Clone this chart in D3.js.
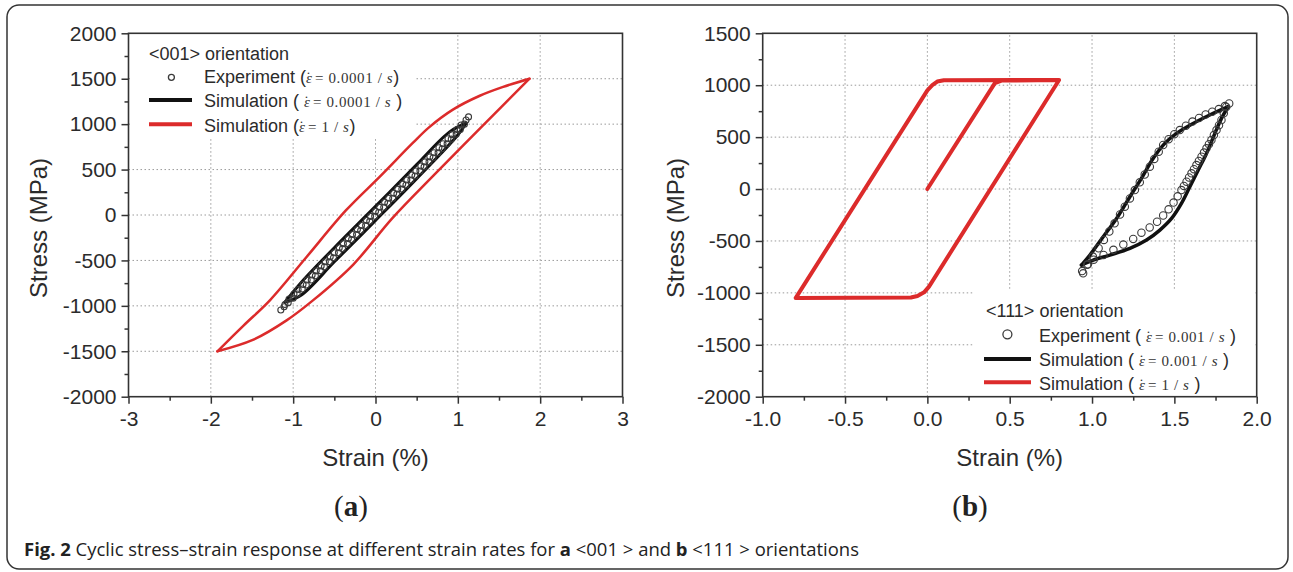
<!DOCTYPE html>
<html>
<head>
<meta charset="utf-8">
<script src="https://cdn.jsdelivr.net/npm/d3@7"></script>
<style>
  body { margin: 0; background: #fff; }
  svg { display: block; }
  .grid line { stroke: #9a9a9a; stroke-width: 1; stroke-dasharray: 1.5 2.5; }
</style>
</head>
<body>
<svg id="fig" width="1293" height="572"></svg>
<script>
// ---- panel (a) : <001> orientation ----
var strainTicksA = [-3, -2, -1, 0, 1, 2, 3];
var strainMinorA = [-2.5, -1.5, -0.5, 0.5, 1.5, 2.5];
var stressTicksA = [-2000, -1500, -1000, -500, 0, 500, 1000, 1500, 2000];
var stressMinorA = [-1750, -1250, -750, -250, 250, 750, 1250, 1750];

// simulation, strain rate 1/s (loading branch, then unloading branch)
var redA_load = [[-1.92,-1500],[-1.60,-1215],[-1.28,-936],[-0.84,-465],[-0.36,50],[0.05,420],[0.45,790],[0.65,965],[0.94,1160],[1.26,1310],[1.55,1410],[1.87,1500]];
var redA_unload = [[1.87,1500],[1.30,980],[0.70,430],[0.20,-40],[-0.27,-545],[-0.76,-940],[-1.08,-1160],[-1.49,-1375],[-1.92,-1500]];
// simulation, strain rate 0.0001/s
var blackA_load = [[-1.10,-960],[-0.90,-740],[-0.50,-360],[0.00,95],[0.50,555],[0.90,915],[1.10,1010]];
var blackA_unload = [[1.10,1010],[1.00,880],[0.50,400],[0.00,-60],[-0.50,-515],[-0.90,-880],[-1.10,-960]];
// experiment, strain rate 0.0001/s
var expA_load = [[-1.15,-1045],[-1.10,-985],[-1.05,-925],[-0.99,-870],[-0.94,-820],[-0.88,-765],[-0.83,-715],[-0.77,-660],[-0.72,-615],[-0.66,-560],[-0.61,-515],[-0.55,-460],[-0.50,-415],[-0.44,-360],[-0.39,-315],[-0.33,-260],[-0.28,-215],[-0.22,-160],[-0.17,-115],[-0.11,-60],[-0.06,-15],[0.00,40],[0.05,85],[0.11,140],[0.16,185],[0.22,240],[0.27,285],[0.33,340],[0.38,385],[0.44,440],[0.49,485],[0.55,540],[0.60,585],[0.66,640],[0.71,685],[0.77,740],[0.82,785],[0.88,840],[0.93,885],[0.99,940],[1.04,990],[1.10,1045],[1.13,1080]];
var expA_unload = [[1.08,1000],[1.03,940],[0.98,890],[0.92,835],[0.87,785],[0.81,730],[0.76,685],[0.70,630],[0.65,585],[0.59,530],[0.54,485],[0.48,430],[0.43,385],[0.37,330],[0.32,285],[0.26,230],[0.21,185],[0.15,130],[0.10,85],[0.04,30],[-0.01,-15],[-0.07,-70],[-0.12,-115],[-0.18,-170],[-0.23,-215],[-0.29,-270],[-0.34,-315],[-0.40,-370],[-0.45,-415],[-0.51,-470],[-0.56,-515],[-0.62,-570],[-0.67,-615],[-0.73,-670],[-0.78,-715],[-0.84,-770],[-0.89,-815],[-0.95,-870],[-1.00,-915],[-1.06,-965],[-1.11,-1010]];

// ---- panel (b) : <111> orientation ----
var strainTicksB = [-1.0, -0.5, 0.0, 0.5, 1.0, 1.5, 2.0];
var strainMinorB = [-0.75, -0.25, 0.25, 0.75, 1.25, 1.75];
var stressTicksB = [-2000, -1500, -1000, -500, 0, 500, 1000, 1500];
var stressMinorB = [-1750, -1250, -750, -250, 250, 750, 1250];

var redB = [[0.00,0],[0.41,1020],[0.45,1045],[0.80,1050],[0.01,-940],[-0.02,-995],[-0.06,-1030],[-0.10,-1045],[-0.80,-1050],[0.00,950],[0.03,1000],[0.06,1035],[0.10,1048],[0.80,1050]];
var blackB_load = [[0.936,-732],[0.987,-636],[1.068,-459],[1.149,-283],[1.230,-74],[1.300,103],[1.371,295],[1.442,440],[1.513,536],[1.614,632],[1.715,713],[1.827,793]];
var blackB_unload = [[1.827,793],[1.786,681],[1.746,536],[1.695,343],[1.645,183],[1.594,22],[1.543,-138],[1.483,-283],[1.412,-395],[1.331,-491],[1.230,-571],[1.108,-636],[1.007,-684],[0.936,-732]];
var expB_load = [[0.946,-812],[0.975,-725],[1.005,-650],[1.040,-570],[1.072,-490],[1.105,-410],[1.137,-330],[1.170,-245],[1.199,-170],[1.230,-90],[1.260,-10],[1.290,65],[1.320,140],[1.351,215],[1.378,290],[1.405,360],[1.432,424],[1.465,480],[1.500,528],[1.533,568],[1.570,610],[1.610,650],[1.650,684],[1.690,718],[1.730,745],[1.770,770],[1.807,799],[1.833,825]];
var expB_unload = [[1.815,790],[1.800,730],[1.786,665],[1.771,615],[1.756,568],[1.740,520],[1.725,472],[1.710,432],[1.695,392],[1.680,351],[1.665,311],[1.649,271],[1.634,231],[1.619,191],[1.604,151],[1.589,111],[1.574,71],[1.558,30],[1.543,-10],[1.520,-70],[1.495,-130],[1.465,-195],[1.432,-255],[1.395,-315],[1.350,-370],[1.300,-420],[1.250,-480],[1.190,-535],[1.130,-585],[1.070,-635],[1.010,-680],[0.970,-730],[0.940,-790]];

var RED = "#dc2b2b", BLACK = "#111";
var SANS = "'Liberation Sans', Arial, sans-serif";
var SERIF = "'Liberation Serif', 'DejaVu Serif', 'Times New Roman', serif";

// Origin style labels use a plain hyphen for the minus sign
function hyphen(f) { return function(d) { return f(d).replace("\u2212", "-"); }; }

var svg = d3.select("#fig");
svg.append("rect").attr("width", 1293).attr("height", 572).attr("fill", "#fff");
svg.append("rect").attr("x", 7).attr("y", 5).attr("width", 1281).attr("height", 564)
	.attr("rx", 12).attr("fill", "none").attr("stroke", "#333").attr("stroke-width", 1.5);

function label(sel) { return sel.style("font-family", SANS).attr("fill", "#2b2b2b"); }

function drawPanel(o)
{
	var x = d3.scaleLinear().domain(o.xDomain).range(o.xRange);
	var y = d3.scaleLinear().domain(o.yDomain).range([396.7, 33.3]);
	var g = svg.append("g");

	// dotted grid at inner major ticks
	var grid = g.append("g").attr("class", "grid");
	grid.selectAll(".gx").data(o.xTicks.slice(1, -1)).enter().append("line")
		.attr("x1", function(d){ return x(d); }).attr("x2", function(d){ return x(d); })
		.attr("y1", y.range()[0]).attr("y2", y.range()[1]);
	grid.selectAll(".gy").data(o.yTicks.slice(1, -1)).enter().append("line")
		.attr("y1", function(d){ return y(d); }).attr("y2", function(d){ return y(d); })
		.attr("x1", x.range()[0]).attr("x2", x.range()[1]);

	// opaque legend box hides grid
	g.append("rect").attr("x", o.legBox[0]).attr("y", o.legBox[1])
		.attr("width", o.legBox[2]).attr("height", o.legBox[3]).attr("fill", "#fff");

	var line = d3.line().x(function(d){ return x(d[0]); }).y(function(d){ return y(d[1]); });
	var smooth = d3.line().curve(d3.curveCatmullRom.alpha(0.5))
		.x(function(d){ return x(d[0]); }).y(function(d){ return y(d[1]); });

	o.lines.forEach(function(s) {
		g.append("path").attr("d", (s.sharp ? line : smooth)(s.data))
			.attr("fill", "none").attr("stroke", s.color).attr("stroke-width", s.width)
			.attr("stroke-linejoin", "round").attr("stroke-linecap", "round");
	});
	o.points.forEach(function(s) {
		g.append("g").selectAll("circle").data(s).enter().append("circle")
			.attr("cx", function(d){ return x(d[0]); }).attr("cy", function(d){ return y(d[1]); })
			.attr("r", o.r).attr("fill", "none").attr("stroke", "#3a3a3a").attr("stroke-width", 1.1);
	});

	// axes
	g.append("g").attr("transform", "translate(0," + y.range()[0] + ")")
		.call(d3.axisBottom(x).tickValues(o.xTicks).tickSize(7).tickPadding(7).tickFormat(hyphen(o.xFmt)));
	g.append("g").attr("transform", "translate(0," + y.range()[0] + ")")
		.call(d3.axisBottom(x).tickValues(o.xMinor).tickSize(4).tickFormat(""));
	g.append("g").attr("transform", "translate(" + x.range()[0] + ",0)")
		.call(d3.axisLeft(y).tickValues(o.yTicks).tickSize(7).tickPadding(5).tickFormat(hyphen(d3.format("d"))));
	g.append("g").attr("transform", "translate(" + x.range()[0] + ",0)")
		.call(d3.axisLeft(y).tickValues(o.yMinor).tickSize(4).tickFormat(""));
	g.selectAll(".domain").remove();
	g.selectAll(".tick line").attr("stroke", "#333").attr("stroke-width", 1.5);
	label(g.selectAll(".tick text")).attr("font-size", 21);

	g.append("rect").attr("x", x.range()[0]).attr("y", y.range()[1])
		.attr("width", x.range()[1] - x.range()[0]).attr("height", y.range()[0] - y.range()[1])
		.attr("fill", "none").attr("stroke", "#333").attr("stroke-width", 1.6);

	// axis titles
	var cx = (x.range()[0] + x.range()[1]) / 2;
	label(g.append("text")).attr("x", cx).attr("y", 466).attr("text-anchor", "middle")
		.attr("font-size", 24).text("Strain (%)");
	label(g.append("text")).attr("transform", "translate(" + o.yTitleX + ",228) rotate(-90)")
		.attr("text-anchor", "middle").attr("font-size", 24).text("Stress (MPa)");

	// panel letter
	var lt = g.append("text").attr("x", o.letterX).attr("y", 516).attr("text-anchor", "middle")
		.style("font-family", SERIF).attr("font-size", 29).attr("fill", "#222");
	lt.append("tspan").text("(");
	lt.append("tspan").attr("font-weight", "bold").text(o.letter);
	lt.append("tspan").text(")");

	// legend
	var L = o.legend;
	label(g.append("text")).attr("x", L.x0).attr("y", L.base[0]).attr("font-size", 18).text(L.title);
	g.append("circle").attr("cx", L.sym[0]).attr("cy", L.symY[0]).attr("r", L.symR)
		.attr("fill", "none").attr("stroke", "#3a3a3a").attr("stroke-width", 1.3);
	[BLACK, RED].forEach(function(c, i) {
		g.append("line").attr("x1", L.sym[1]).attr("x2", L.sym[2])
			.attr("y1", L.symY[i + 1]).attr("y2", L.symY[i + 1])
			.attr("stroke", c).attr("stroke-width", 4);
	});
	L.rows.forEach(function(r, i) {
		var t = label(g.append("text")).attr("x", L.tx).attr("y", L.base[i + 1]).attr("font-size", 18);
		t.append("tspan").text(r.name + (r.gap ? "  " : " ") + (r.pad ? "( " : "("));
		var f = t.append("tspan").style("font-family", SERIF).attr("font-size", 15)
			.attr("letter-spacing", 0.6).attr("fill", "#333");
		// strain rate symbol: italic epsilon with a dot placed over it
		f.append("tspan").attr("font-style", "italic").text("\u03b5");
		f.append("tspan").attr("dx", -7.5).attr("dy", -1).attr("font-style", "italic").text("\u02d9");
		f.append("tspan").attr("dy", 1).text(" = " + r.rate + " / ");
		f.append("tspan").attr("font-style", "italic").text("s");
		t.append("tspan").text(r.pad ? " )" : ")");
	});
}

drawPanel({
	xDomain: [-3, 3], xRange: [128.5, 622.5], yDomain: [-2000, 2000],
	xTicks: strainTicksA, xMinor: strainMinorA, yTicks: stressTicksA, yMinor: stressMinorA,
	xFmt: d3.format("d"), r: 3,
	legBox: [130, 34.5, 286, 103],
	lines: [
		{ data: blackA_load, color: BLACK, width: 3 },
		{ data: blackA_unload, color: BLACK, width: 3 },
		{ data: redA_load, color: RED, width: 2.5 },
		{ data: redA_unload, color: RED, width: 2.5 }
	],
	points: [expA_load, expA_unload],
	yTitleX: 47, letter: "a", letterX: 351,
	legend: {
		title: "<001> orientation", x0: 149, tx: 204, base: [60, 83.3, 107.3, 131.7],
		sym: [171.4, 149, 192], symY: [77.3, 100, 124.3], symR: 3,
		rows: [
			{ name: "Experiment", rate: "0.0001" },
			{ name: "Simulation", rate: "0.0001", pad: true },
			{ name: "Simulation", rate: "1" }
		]
	}
});

drawPanel({
	xDomain: [-1, 2], xRange: [762.7, 1256.7], yDomain: [-2000, 1500],
	xTicks: strainTicksB, xMinor: strainMinorB, yTicks: stressTicksB, yMinor: stressMinorB,
	xFmt: d3.format(".1f"), r: 3.7,
	legBox: [974, 289, 281.5, 107],
	lines: [
		{ data: redB, color: RED, width: 4, sharp: true },
		{ data: blackB_load, color: BLACK, width: 3.5 },
		{ data: blackB_unload, color: BLACK, width: 3.5 }
	],
	points: [expB_load, expB_unload],
	yTitleX: 684, letter: "b", letterX: 970,
	legend: {
		title: "<111> orientation", x0: 986, tx: 1039, base: [317, 341.5, 366, 390],
		sym: [1007.4, 984, 1031], symY: [334.3, 359, 382.3], symR: 4.5,
		rows: [
			{ name: "Experiment", rate: "0.001", pad: true },
			{ name: "Simulation", rate: "0.001", pad: true, gap: true },
			{ name: "Simulation", rate: "1", pad: true, gap: true }
		]
	}
});

// caption
var cap = svg.append("text").attr("x", 24).attr("y", 556)
	.style("font-family", "'Open Sans', 'Noto Sans', sans-serif").attr("font-size", 18).attr("fill", "#222")
	.attr("textLength", 835).attr("lengthAdjust", "spacingAndGlyphs");
cap.append("tspan").attr("font-weight", "bold").text("Fig. 2");
cap.append("tspan").text(" Cyclic stress\u2013strain response at different strain rates for ");
cap.append("tspan").attr("font-weight", "bold").text("a");
cap.append("tspan").text(" <001 > and ");
cap.append("tspan").attr("font-weight", "bold").text("b");
cap.append("tspan").text(" <111 > orientations");
</script>
</body>
</html>
